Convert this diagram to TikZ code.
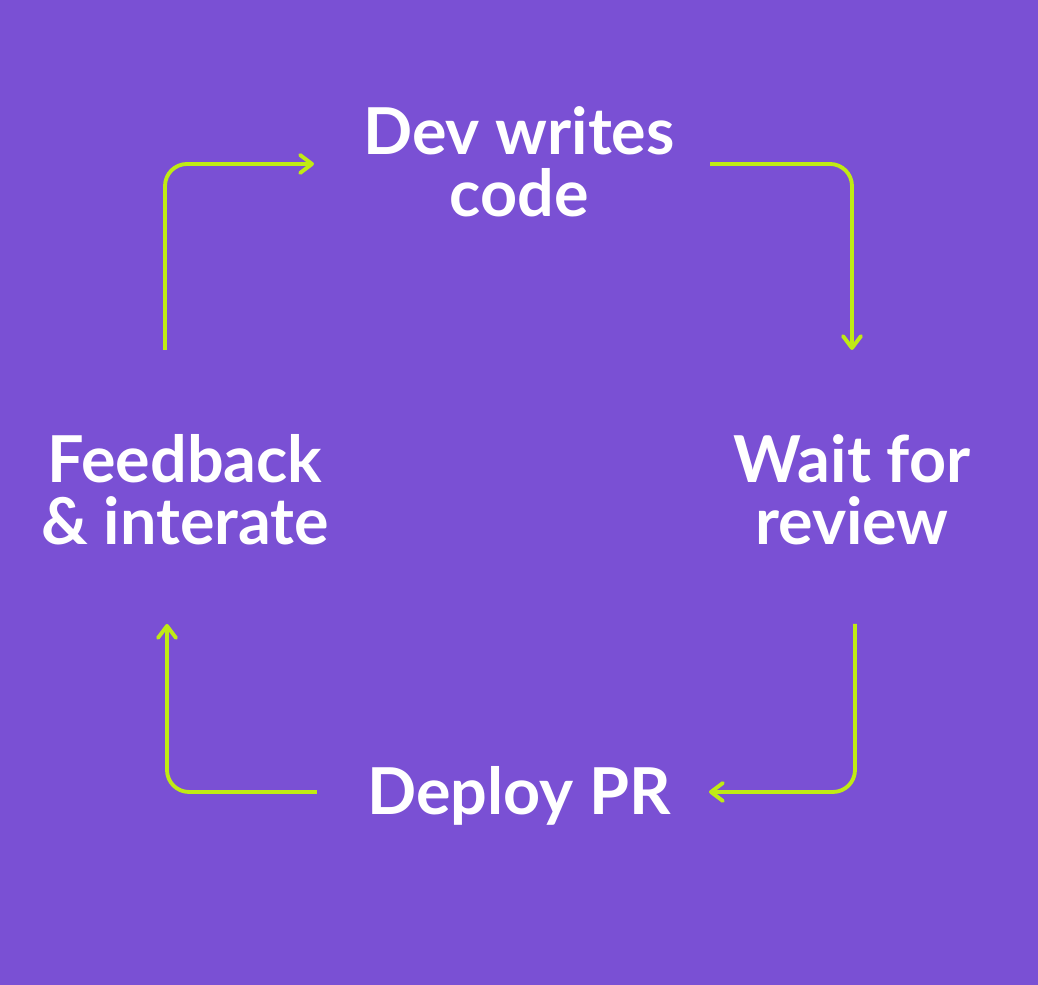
\documentclass[tikz,border=0pt]{standalone}
\usepackage{fontspec}
\setmainfont{Lato}
\usetikzlibrary{arrows.meta}
\definecolor{bgpurple}{RGB}{122,80,212}
\definecolor{lime}{RGB}{192,234,20}

\begin{document}
\begin{tikzpicture}[
    stage/.style={text=white,font=\bfseries\fontsize{18.4}{17.6}\selectfont,align=center,inner sep=0pt},
    cyc/.style={draw=lime,line width=1.1pt,rounded corners=0.22cm,
      -{Straight Barb[length=0.12cm,width=0.18cm,round]}}]
        \fill[bgpurple] (0,0) rectangle (10.38,9.85);
        % the four steps
        \node[stage] (dev) at (5.19,8.23) {Dev writes\\code};
        \node[stage] (wait) at (8.52,4.95) {Wait for\\review};
        \node[stage] (deploy) at (5.19,1.89) {Deploy PR};
        \node[stage] (feedback) at (1.85,4.95) {Feedback\\\& interate};
        % arrow ends
        \coordinate (fb-out) at (1.65,6.35);
        \coordinate (dev-in) at (3.14,8.21);
        \coordinate (dev-out) at (7.10,8.21);
        \coordinate (wait-in) at (8.52,6.35);
        \coordinate (wait-out) at (8.55,3.61);
        \coordinate (deploy-in) at (7.09,1.93);
        \coordinate (deploy-out) at (3.17,1.93);
        \coordinate (fb-in) at (1.67,3.61);
        \draw[cyc] (fb-out) |- (dev-in);
        \draw[cyc] (dev-out) -| (wait-in);
        \draw[cyc] (wait-out) |- (deploy-in);
        \draw[cyc] (deploy-out) -| (fb-in);
      \end{tikzpicture}
\end{document}
